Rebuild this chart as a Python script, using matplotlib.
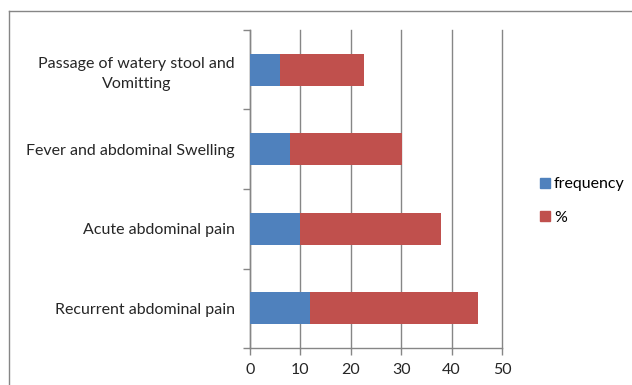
import matplotlib
matplotlib.use("Agg")
import matplotlib.pyplot as plt
from matplotlib.lines import Line2D

categories = [
    "Recurrent abdominal pain",
    "Acute abdominal pain",
    "Fever and abdominal Swelling",
    "Passage of watery stool and\nVomitting",
]
frequency = [12, 10, 8, 6]
percent = [33.3, 27.8, 22.2, 16.7]
xticks = [0, 10, 20, 30, 40, 50]

blue = "#4F81BD"
red = "#C0504D"
grey = "#868686"

plt.rcParams["font.family"] = ["Lato", "DejaVu Sans"]

fig = plt.figure(figsize=(6.32, 3.85), dpi=100)
ax = fig.add_axes([250 / 632, 37 / 385, 252 / 632, 318 / 385])

y = list(range(len(categories)))
ax.barh(y, frequency, height=0.4, color=blue, label="frequency", zorder=3)
ax.barh(y, percent, left=frequency, height=0.4, color=red, label="%", zorder=3)

ax.set_xlim(0, 50)
ax.set_ylim(-0.5, len(categories) - 0.5)
ax.set_xticks(xticks)
ax.set_xticklabels([str(v) for v in xticks], fontsize=11.5, color="#262626")
ax.grid(axis="x", color=grey, linewidth=1, zorder=0)
for gl in ax.get_xgridlines():
    gl.set_clip_on(False)

# major ticks at category boundaries, labels on minor ticks
ax.set_yticks([i - 0.5 for i in range(len(categories) + 1)])
ax.set_yticklabels([])
ax.set_yticks(y, minor=True)
ax.set_yticklabels(categories, minor=True, fontsize=11.5, color="#262626",
                   multialignment="center", linespacing=1.5)
ax.tick_params(axis="y", which="minor", length=0, pad=11)
ax.tick_params(axis="y", which="major", length=5, color=grey, width=1)
ax.tick_params(axis="x", length=5, color=grey, width=1, pad=6)

for s in ["top", "right"]:
    ax.spines[s].set_visible(False)
for s in ["left", "bottom"]:
    ax.spines[s].set_color(grey)
    ax.spines[s].set_linewidth(1)

# legend
handles = [
    Line2D([], [], marker="s", linestyle="none", markersize=7, color=blue, label="frequency"),
    Line2D([], [], marker="s", linestyle="none", markersize=7, color=red, label="%"),
]
fig.legend(handles=handles, loc="center left", bbox_to_anchor=(523 / 632, 1 - 201 / 385),
           frameon=False, fontsize=11.5, handletextpad=0.05, labelspacing=1.2,
           handlelength=1.0)

# chart border (cropped on right and bottom)
fig.add_artist(Line2D([9 / 632, 9 / 632], [0, 1 - 11 / 385], color=grey, linewidth=1,
                      transform=fig.transFigure))
fig.add_artist(Line2D([9 / 632, 1], [1 - 11 / 385, 1 - 11 / 385], color=grey, linewidth=1,
                      transform=fig.transFigure))

fig.savefig("out.png", dpi=100)
